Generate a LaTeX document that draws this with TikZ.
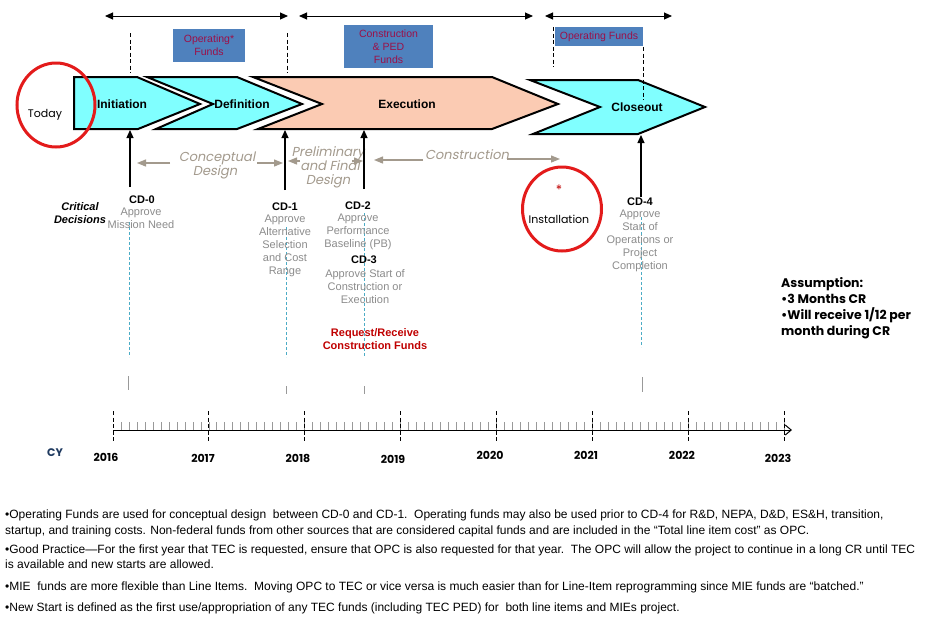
\documentclass[tikz,border=0pt]{standalone}
\usepackage{fontspec}
\setmainfont{Liberation Sans}
\newfontfamily\goth{Poppins}
\newfontfamily\gothit[FakeSlant=0.2]{Poppins}
\usetikzlibrary{arrows.meta,shapes.geometric}
\definecolor{cyanfill}{HTML}{80FFFF}
\definecolor{peach}{HTML}{FBCBB3}
\definecolor{boxblue}{HTML}{4F81BD}
\definecolor{boxtext}{HTML}{9B1048}
\definecolor{ringred}{HTML}{E31B1B}
\definecolor{taupe}{HTML}{A39A8D}
\definecolor{graytext}{HTML}{8C8C8C}
\definecolor{tealdash}{HTML}{4BACC6}
\definecolor{navy}{HTML}{1F3A60}
\definecolor{darkred}{HTML}{C00000}
\begin{document}
\begin{tikzpicture}[x=1pt,y=-1pt,
  chev/.style={draw=black,line width=2pt,line join=miter},
  phaselbl/.style={font=\fontsize{12}{14}\selectfont\bfseries,inner sep=0,anchor=base},
  fundbox/.style={fill=boxblue,text=boxtext,font=\fontsize{10.5}{13}\selectfont,align=center,inner sep=0},
  spanarrow/.style={{Triangle[length=8pt,width=7pt]}-{Triangle[length=8pt,width=7pt]},line width=1pt},
  guide/.style={draw=black,line width=0.8pt,dash pattern=on 4pt off 2.5pt},
  ring/.style={draw=ringred,line width=3pt,ellipse,inner sep=0},
  gothlbl/.style={font=\fontsize{11}{13}\selectfont\goth,inner sep=0,anchor=base},
  taupetxt/.style={font=\fontsize{13}{14}\selectfont\gothit,text=taupe,inner sep=0,anchor=base},
  tarrow/.style={draw=taupe,line width=1.2pt,-{Triangle[length=9pt,width=7pt]}},
  uparrow/.style={draw=black,line width=1.2pt,-{Triangle[length=8pt,width=7pt]}},
  cdb/.style={font=\fontsize{11}{13}\selectfont\bfseries,inner sep=0,anchor=base},
  cdg/.style={font=\fontsize{11}{13}\selectfont,text=graytext,align=center,inner sep=0,anchor=north},
  tdash/.style={draw=tealdash,line width=0.8pt,dash pattern=on 3pt off 2pt},
  gtick/.style={draw=gray!80,line width=0.7pt},
  yearlbl/.style={font=\fontsize{11}{13}\selectfont\goth\bfseries,inner sep=0,anchor=base},
  notelbl/.style={font=\fontsize{12}{14}\selectfont,inner sep=0,anchor=base west},
]
\fill[white] (0,0) rectangle (938,625);
\path[use as bounding box] (0,0) rectangle (938,625);

% ---------- top span arrows ----------
\coordinate (s1l) at (105,16); \coordinate (s1r) at (288,16);
\coordinate (s2l) at (299,16); \coordinate (s2r) at (533,16);
\coordinate (s3l) at (545,16); \coordinate (s3r) at (672,16);
\draw[spanarrow] (s1l) -- (s1r);
\draw[spanarrow] (s2l) -- (s2r);
\draw[spanarrow] (s3l) -- (s3r);

% ---------- fund boxes ----------
\node[fundbox,minimum width=72pt,minimum height=33pt] (opf1) at (209,45.5) {Operating*\\Funds};
\node[fundbox,minimum width=89pt,minimum height=43pt] (cpf) at (388.5,46.5) {Construction\\\& PED\\Funds};
\node[fundbox,minimum width=88pt,minimum height=19pt] (opf2) at (599,36.5) {Operating Funds};

% ---------- chevrons ----------
\draw[chev,fill=cyanfill] (74,77) -- (137,77) -- (200,104) -- (138,129) -- (74,129) -- cycle;
\draw[chev,fill=cyanfill] (147,77) -- (237,77) -- (302,104) -- (237,129) -- (156,129) -- (213,104) -- cycle;
\draw[chev,fill=peach] (253,77) -- (492,77) -- (558,104) -- (492,129) -- (258,129) -- (322,104) -- cycle;
\draw[chev,fill=cyanfill] (530,80) -- (638,80) -- (705,107) -- (638,134) -- (533,134) -- (600,107) -- cycle;
\node[phaselbl] (init) at (122,108.3) {Initiation};
\node[phaselbl] (defn) at (242,108.3) {Definition};
\node[phaselbl] (exec) at (407,108.3) {Execution};
\node[phaselbl] (close) at (637,111.3) {Closeout};

% ---------- dashed guides ----------
\coordinate (g1a) at (130,33); \coordinate (g1b) at (130,73);
\coordinate (g2a) at (287,33); \coordinate (g2b) at (287,73);
\coordinate (g3a) at (553,27); \coordinate (g3b) at (553,67);
\coordinate (g4a) at (643,47); \coordinate (g4b) at (643,100);
\draw[guide] (g1a) -- (g1b);
\draw[guide] (g2a) -- (g2b);
\draw[guide] (g3a) -- (g3b);
\draw[guide] (g4a) -- (g4b);

% ---------- Today ----------
\node[ring,minimum width=78pt,minimum height=84pt] (todayring) at (56,105) {};
\node[gothlbl] (today) at (45,117) {Today};

% ---------- design phases ----------
\node[taupetxt] (concA) at (217,161.5) {Conceptual};
\node[taupetxt] (concB) at (215,175.5) {Design};
\coordinate (ca1) at (170,163); \coordinate (ca2) at (137,163);
\coordinate (ca3) at (257,163); \coordinate (ca4) at (283,163);
\draw[tarrow] (ca1) -- (ca2);
\draw[tarrow] (ca3) -- (ca4);

\coordinate (pa1) at (300,161); \coordinate (pa2) at (288,161);
\coordinate (pa3) at (352,161); \coordinate (pa4) at (363,161);
\draw[tarrow] (pa1) -- (pa2);
\draw[tarrow] (pa3) -- (pa4);
\node[taupetxt] (prelA) at (328,156) {Preliminary};
\node[taupetxt] (prelB) at (330,170) {and Final};
\node[taupetxt] (prelC) at (328,184) {Design};

\node[taupetxt] (constr) at (467,159.5) {Construction};
\coordinate (xa1) at (423,160); \coordinate (xa2) at (374,160);
\coordinate (xa3) at (507,159); \coordinate (xa4) at (560,159);
\draw[tarrow] (xa1) -- (xa2);
\draw[tarrow] (xa3) -- (xa4);

% ---------- teal dashed lines and gray ticks ----------
\coordinate (t0a) at (129,222); \coordinate (t0b) at (129,357);
\coordinate (t1a) at (286,227); \coordinate (t1b) at (286,357);
\coordinate (t2a) at (364,213); \coordinate (t2b) at (364,357);
\coordinate (t4a) at (641,217); \coordinate (t4b) at (641,347);
\draw[tdash] (t0a) -- (t0b);
\draw[tdash] (t1a) -- (t1b);
\draw[tdash] (t2a) -- (t2b);
\draw[tdash] (t4a) -- (t4b);
\coordinate (k0a) at (128,376); \coordinate (k0b) at (128,390);
\coordinate (k1a) at (286,386); \coordinate (k1b) at (286,394);
\coordinate (k2a) at (364,386); \coordinate (k2b) at (364,394);
\coordinate (k4a) at (642,377); \coordinate (k4b) at (642,392);
\draw[gtick] (k0a) -- (k0b);
\draw[gtick] (k1a) -- (k1b);
\draw[gtick] (k2a) -- (k2b);
\draw[gtick] (k4a) -- (k4b);

% ---------- critical decisions ----------
\node[font=\fontsize{11}{13}\selectfont\bfseries\itshape,align=center,inner sep=0,anchor=north] (crit) at (80,202) {Critical\\Decisions};

\node[cdb] (cd0) at (142,203) {CD-0};
\node[cdg] (cd0t) at (141,208) {Approve\\Mission Need};
\node[cdb] (cd1) at (285,210) {CD-1};
\node[cdg] (cd1t) at (285,215) {Approve\\Alternative\\Selection\\and Cost\\Range};
\node[cdb] (cd2) at (358,209) {CD-2};
\node[cdg] (cd2t) at (358,214) {Approve\\Performance\\Baseline (PB)};
\node[cdb] (cd3) at (364,263) {CD-3};
\node[cdg] (cd3t) at (365,269) {Approve Start of\\Construction or\\Execution};
\node[font=\fontsize{11}{13}\selectfont\bfseries,text=darkred,align=center,inner sep=0,anchor=north] (req) at (375,328) {Request/Receive\\Construction Funds};
\node[cdb] (cd4) at (640,205) {CD-4};
\node[cdg] (cd4t) at (640,210) {Approve\\Start of\\Operations or\\Project\\Completion};

\coordinate (u0a) at (130,187); \coordinate (u0b) at (130,130);
\coordinate (u1a) at (285,190); \coordinate (u1b) at (285,130);
\coordinate (u2a) at (364,189); \coordinate (u2b) at (364,130);
\coordinate (u4a) at (641,197); \coordinate (u4b) at (641,135);
\draw[uparrow] (u0a) -- (u0b);
\draw[uparrow] (u1a) -- (u1b);
\draw[uparrow] (u2a) -- (u2b);
\draw[uparrow] (u4a) -- (u4b);

% ---------- installation ----------
\node[ring,minimum width=79pt,minimum height=84pt] (instring) at (562,209) {};
\node[font=\fontsize{13}{14}\selectfont\goth,text=darkred,inner sep=0] (star) at (559,190) {*};
\node[gothlbl] (install) at (559,223) {Installation};

% ---------- assumption ----------
\node[font=\fontsize{12.5}{16}\selectfont\goth\bfseries,align=left,inner sep=0,anchor=north west] (assume) at (781,277) {Assumption:\\•3 Months CR\\•Will receive 1/12 per\\month during CR};

% ---------- timeline ----------
\coordinate (ax0) at (113,430); \coordinate (ax1) at (792,430);
\foreach \i in {1,...,84} \draw[gtick] (113+\i*7.988,422) -- (113+\i*7.988,430);
\draw[line width=1pt,-{Straight Barb[length=6pt,width=10pt]}] (ax0) -- (ax1);
\foreach \k in {0,...,7} \draw[guide] (113+\k*95.86,411) -- (113+\k*95.86,443);
\node[yearlbl] (y16) at (106,461) {2016};
\node[yearlbl] (y17) at (203,462) {2017};
\node[yearlbl] (y18) at (298,462) {2018};
\node[yearlbl] (y19) at (393,463) {2019};
\node[yearlbl] (y20) at (490,459) {2020};
\node[yearlbl] (y21) at (586,459) {2021};
\node[yearlbl] (y22) at (682,459) {2022};
\node[yearlbl] (y23) at (778,462) {2023};
\node[yearlbl,text=navy] (cy) at (55,456) {CY};

% ---------- notes ----------
\node[notelbl] (n1) at (5,518.5) {•Operating Funds are used for conceptual design\ \ between CD-0 and CD-1.\ \ Operating funds may also be used prior to CD-4 for R\&D, NEPA, D\&D, ES\&H, transition,};
\node[notelbl] (n2) at (5,534.5) {startup, and training costs. Non-federal funds from other sources that are considered capital funds and are included in the “Total line item cost” as OPC.};
\node[notelbl] (n3) at (5,553.5) {•Good Practice—For the first year that TEC is requested, ensure that OPC is also requested for that year.\ \ The OPC will allow the project to continue in a long CR until TEC};
\node[notelbl] (n4) at (5,568.5) {is available and new starts are allowed.};
\node[notelbl] (n5) at (5,590.5) {•MIE\ \ funds are more flexible than Line Items.\ \ Moving OPC to TEC or vice versa is much easier than for Line-Item reprogramming since MIE funds are “batched.”};
\node[notelbl] (n6) at (5,611.5) {•New Start is defined as the first use/appropriation of any TEC funds (including TEC PED) for\ \ both line items and MIEs project.};
\end{tikzpicture}
\end{document}
